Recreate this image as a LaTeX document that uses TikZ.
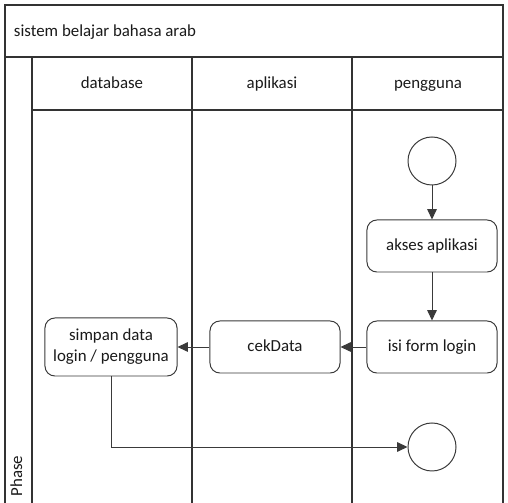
\documentclass[tikz,border=0pt]{standalone}
\usepackage{fontspec}
\setmainfont{Carlito}
\usepackage{xcolor}
\usetikzlibrary{arrows.meta,positioning}
\definecolor{laneline}{HTML}{333333}
\definecolor{boxline}{HTML}{3A3A3A}
\definecolor{inktext}{HTML}{1A1A1A}
\tikzset{
  lane/.style={draw=laneline,line width=0.8pt},
  action/.style={rectangle,rounded corners=7pt,draw=boxline,line width=0.7pt,
                 fill=white,minimum width=3.25cm,minimum height=1.3cm,
                 align=center,font=\fontsize{12}{15}\selectfont,text=inktext},
  oneline/.style={text height=1.6ex,text depth=0.4ex},
  state/.style={circle,draw=boxline,line width=0.7pt,fill=white,minimum size=1.2cm},
  lanetitle/.style={font=\fontsize{12}{15}\selectfont,text=inktext,
                    text height=1.6ex,text depth=0.4ex},
  flow/.style={-{Triangle[length=2.6mm,width=2.4mm]},line width=0.7pt,draw=boxline},
}
\begin{document}
\begin{tikzpicture}[x=0.025cm,y=-0.025cm]
\useasboundingbox (0,0) rectangle (508,503);
% swimlane frame
\draw[lane] (5,503) -- (5,5) -- (503,5) -- (503,503);
\draw[lane] (5,57) -- (503,57);
\draw[lane] (32,57) -- (32,503);
\draw[lane] (32,110) -- (503,110);
\draw[lane] (192,57) -- (192,503);
\draw[lane] (352,57) -- (352,503);
\node[lanetitle,anchor=west] (title) at (9,32) {sistem belajar bahasa arab};
\node[lanetitle] (db) at (112,84) {database};
\node[lanetitle] (app) at (272,84) {aplikasi};
\node[lanetitle] (user) at (428,84) {pengguna};
\node[lanetitle,rotate=90] (phase) at (18,476) {Phase};
% activities
\node[state] (start) at (432,161) {};
\node[action,oneline] (akses) at (432,246) {akses aplikasi};
\node[action,oneline] (isi) at (432,347) {isi form login};
\node[action,oneline] (cek) at (275,347) {cekData};
\node[action,minimum width=3.3cm,minimum height=1.45cm] (simpan) at (111,347) {simpan data\\login / pengguna};
\node[state] (end) at (432,447) {};
\draw[flow] (start) -- (akses);
\draw[flow] (akses) -- (isi);
\draw[flow] (isi) -- (cek);
\draw[flow] (cek) -- (simpan);
\draw[flow] (simpan.south) |- (end.west);
\end{tikzpicture}
\end{document}
